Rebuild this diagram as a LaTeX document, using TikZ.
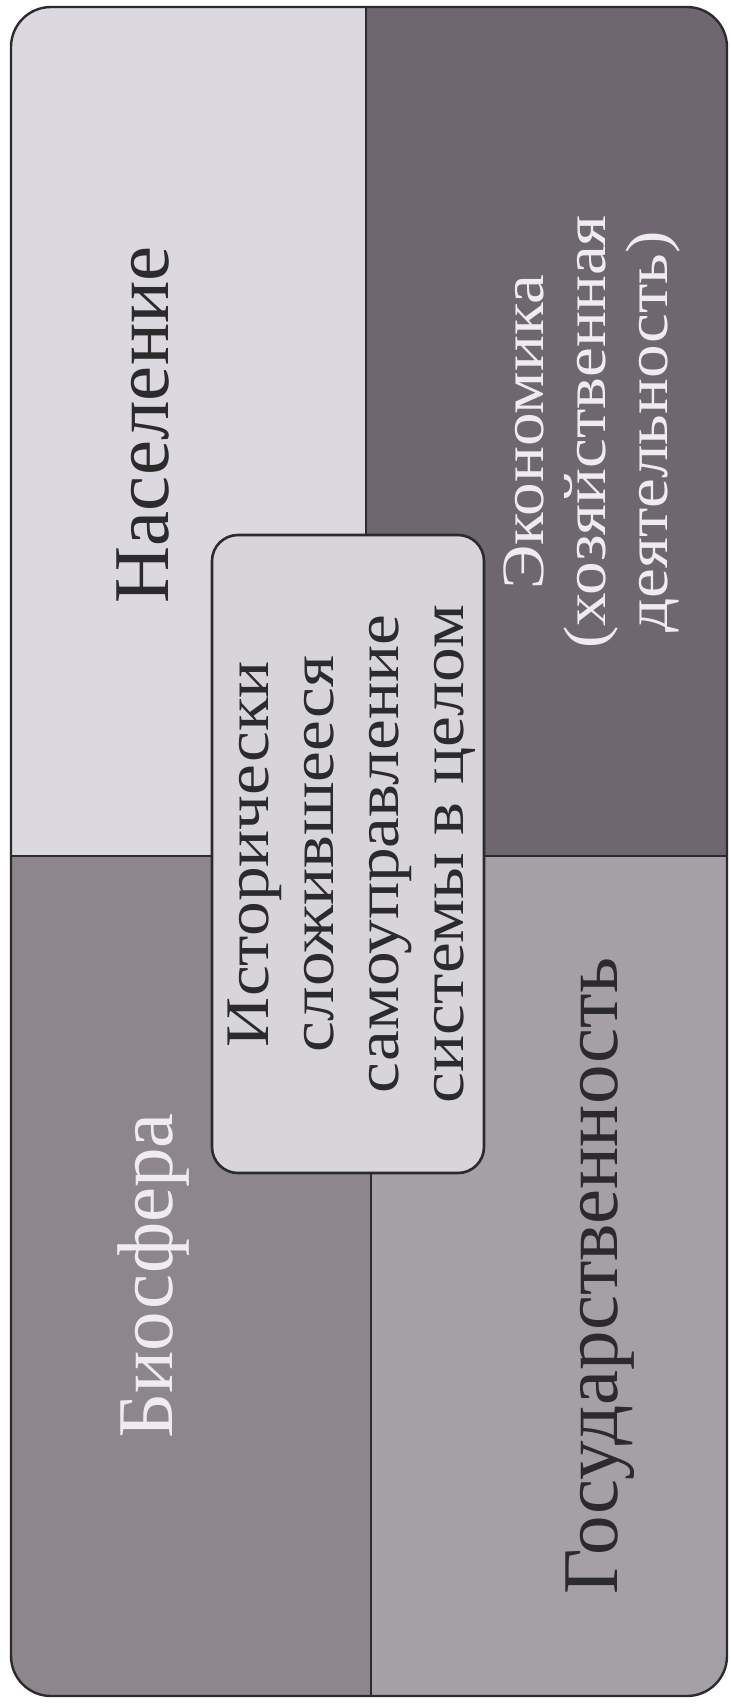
\documentclass[tikz,border=0pt]{standalone}
\usepackage{fontspec}
\setmainfont{Liberation Serif}
\newfontfamily\widefont[FakeStretch=1.12]{Liberation Serif}
\usetikzlibrary{positioning}
\definecolor{popcol}{HTML}{DCD8DF}
\definecolor{ecocol}{HTML}{6E6770}
\definecolor{biocol}{HTML}{8D868D}
\definecolor{statecol}{HTML}{A5A0A6}
\definecolor{corecol}{HTML}{D7D5D9}
\definecolor{inkdark}{HTML}{2B2A2C}
\definecolor{inklight}{HTML}{EEECEF}

\begin{document}
\begin{tikzpicture}[x=0.5pt,y=-0.5pt,
    quadtext/.style={rotate=90,anchor=base,inner sep=0pt,font=\fontsize{39.5}{44}\selectfont},
    ecotext/.style={rotate=90,inner sep=0pt,align=center,font=\widefont\fontsize{30}{31}\selectfont},
    corebox/.style={draw=inkdark,line width=1.3pt,fill=corecol,rounded corners=13pt,
        minimum width=136pt,minimum height=319pt,inner sep=0pt},
    coretext/.style={rotate=90,inner sep=0pt,align=center,text=inkdark,font=\widefont\fontsize{31}{32.5}\selectfont},
    divider/.style={draw=inkdark,line width=1pt}]
    % Bounding box
    \useasboundingbox (0,0) rectangle (731,1708);
    % Quadrants
    \begin{scope}
        \clip[rounded corners=20pt] (11,7) rectangle (727,1696);
        \fill[popcol] (11,7) rectangle (366,856);
        \fill[ecocol] (366,7) rectangle (727,856);
        \fill[biocol] (11,856) rectangle (371,1696);
        \fill[statecol] (371,856) rectangle (727,1696);
    \end{scope}
    % Outer frame
    \draw[inkdark,line width=1.2pt,rounded corners=20pt] (11,7) rectangle (727,1696);
    % Centre box
    \node[corebox] (core) at (348,854) {};
    % Dividers
    \coordinate (ntop) at (366,7);
    \coordinate (nbot) at (371,1696);
    \coordinate (wmid) at (11,856);
    \coordinate (emid) at (727,856);
    \draw[divider] (ntop) -- (ntop |- core.north);
    \draw[divider] (nbot) -- (nbot |- core.south);
    \draw[divider] (wmid) -- (wmid -| core.west);
    \draw[divider] (emid) -- (emid -| core.east);
    % Labels
    \node[quadtext,text=inkdark] (pop) at (168,425) {Население};
    \node[quadtext,text=inklight] (bio) at (172,1276) {Биосфера};
    \node[quadtext,text=inkdark] (state) at (617,1276) {Государственность};
    \node[ecotext,text=inklight] (eco) at (592,432) {Экономика\\(хозяйственная\\деятельность)};
    \node[coretext] (corelabel) at (352,854) {Исторически\\сложившееся\\самоуправление\\системы в целом};
\end{tikzpicture}
\end{document}
